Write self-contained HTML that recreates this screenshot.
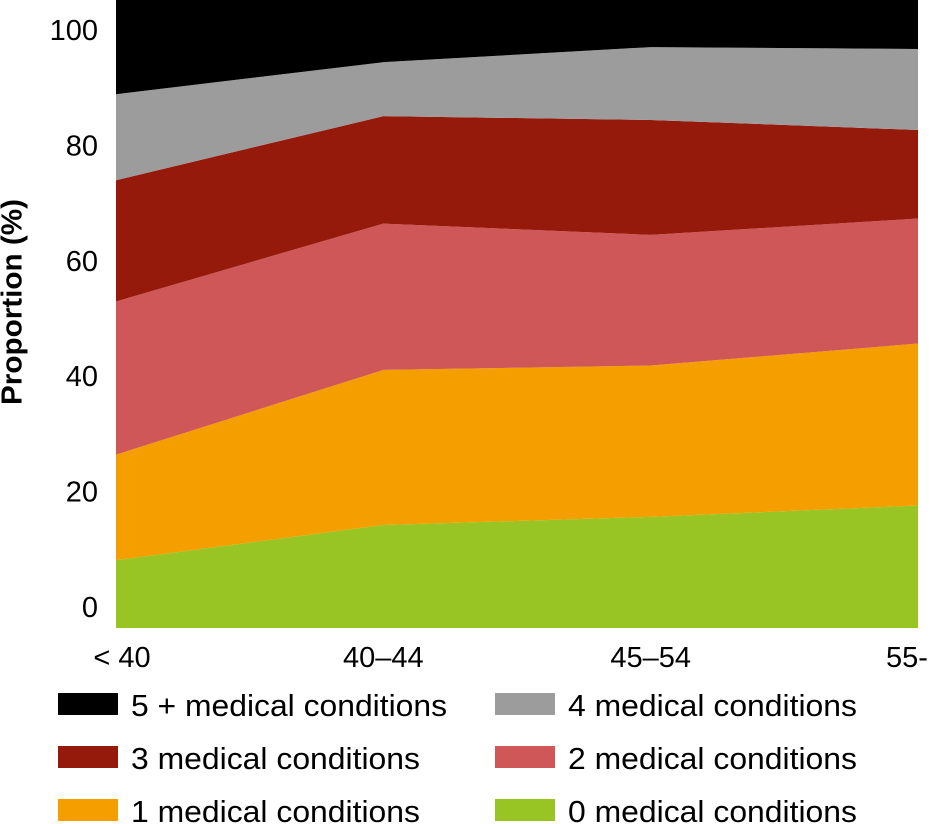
<!DOCTYPE html>
<html><head><meta charset="utf-8"><style>
html,body{margin:0;padding:0;background:#fff;width:930px;height:824px;overflow:hidden}
svg{display:block;font-family:"Liberation Sans",sans-serif}
</style></head><body>
<svg id="chart" width="930" height="824" viewBox="0 0 930 824">
<text x="14" y="302" transform="rotate(-90 14 302)" text-anchor="middle" dominant-baseline="middle" font-size="29" font-weight="bold" fill="#000" textLength="206" lengthAdjust="spacingAndGlyphs">Proportion (%)</text>
</svg>
<script>
const categories = ["< 40", "40–44", "45–54", "55-"];
const s0 = [10.8, 16.4, 17.7, 19.5];
const s1 = [16.8, 24.7, 24.1, 25.8];
const s2 = [24.4, 23.3, 20.8, 19.9];
const s3 = [19.3, 17.1, 18.3, 14.1];
const s4 = [13.7, 8.6, 11.6, 12.9];
const s5 = [15.0, 9.9, 7.5, 7.8];
const seriesNames = ["0 medical conditions","1 medical conditions","2 medical conditions","3 medical conditions","4 medical conditions","5 + medical conditions"];
const yTicks = [0, 20, 40, 60, 80, 100];

const colors = ["#98c424","#f59e00","#cf5757","#951a0c","#9c9c9c","#000000"];
const series = [s0,s1,s2,s3,s4,s5];
const svg = document.getElementById('chart');
const NS = "http://www.w3.org/2000/svg";
const X0 = 116, X1 = 918, Y0 = 628, Y1 = 0;
const x = i => X0 + (X1 - X0) * i / (categories.length - 1);
const y = v => Y0 - (Y0 - Y1) * v / 100;
const labelY = v => 607 - 5.77 * v;

let base = categories.map(() => 0);
series.forEach((s, k) => {
  const top = base.map((b, i) => b + s[i]);
  let d = "";
  top.forEach((v, i) => { d += (i ? "L" : "M") + x(i) + "," + y(v); });
  for (let i = base.length - 1; i >= 0; i--) d += "L" + x(i) + "," + y(base[i]);
  d += "Z";
  const p = document.createElementNS(NS, "path");
  p.setAttribute("d", d);
  p.setAttribute("fill", colors[k]);
  
  
  svg.appendChild(p);
  base = top;
});

yTicks.forEach(t => {
  const tx = document.createElementNS(NS, "text");
  tx.setAttribute("x", 98);
  tx.setAttribute("y", labelY(t) + 10);
  tx.setAttribute("text-anchor", "end");
  tx.setAttribute("font-size", "29");
  tx.textContent = t;
  
  
  svg.appendChild(tx);
});

categories.forEach((c, i) => {
  const tx = document.createElementNS(NS, "text");
  let cx = x(i);
  if (i === 0) cx = 122;
  tx.setAttribute("x", cx);
  tx.setAttribute("y", 667);
  tx.setAttribute("text-anchor", i === categories.length - 1 ? "start" : "middle");
  if (i === categories.length - 1) tx.setAttribute("x", 886);
  tx.setAttribute("font-size", "29");
  tx.textContent = c;
  
  
  svg.appendChild(tx);
});

const legendOrder = [5, 4, 3, 2, 1, 0];
legendOrder.forEach((k, j) => {
  const col = j % 2, row = Math.floor(j / 2);
  const sx = col ? 495 : 58, ty = 704 + row * 53;
  const g = document.createElementNS(NS, "g");
  
  
  const r = document.createElementNS(NS, "rect");
  r.setAttribute("x", sx); r.setAttribute("y", ty - 11);
  r.setAttribute("width", 60); r.setAttribute("height", 22);
  r.setAttribute("fill", colors[k]);
  
  
  const t = document.createElementNS(NS, "text");
  t.setAttribute("x", sx + 73); t.setAttribute("y", ty + 12);
  t.setAttribute("font-size", "31");
  t.setAttribute("textLength", k === 5 ? 316 : 289);
  t.setAttribute("lengthAdjust", "spacingAndGlyphs");
  t.textContent = seriesNames[k];
  
  
  g.appendChild(r); g.appendChild(t);
  svg.appendChild(g);
});
</script>
</body></html>
